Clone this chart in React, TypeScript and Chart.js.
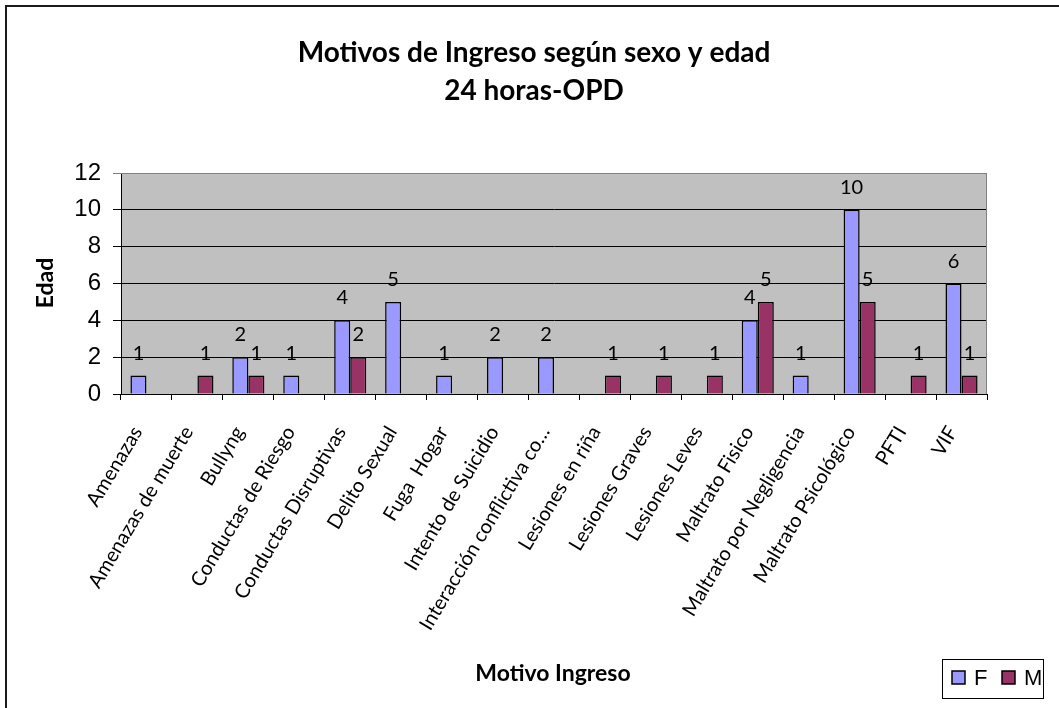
import React, { useEffect, useRef } from "react";
import { Chart, registerables } from "chart.js";

Chart.register(...registerables);

const categories = [
  "Amenazas",
  "Amenazas de muerte",
  "Bullyng",
  "Conductas de Riesgo",
  "Conductas Disruptivas",
  "Delito Sexual",
  "Fuga  Hogar",
  "Intento de Suicidio",
  "Interacción conflictiva co…",
  "Lesiones en riña",
  "Lesiones Graves",
  "Lesiones Leves",
  "Maltrato Fisico",
  "Maltrato por Negligencia",
  "Maltrato Psicológico",
  "PFTI",
  "VIF",
];

const valuesF = [1, null, 2, 1, 4, 5, 1, 2, 2, null, null, null, 4, 1, 10, null, 6];
const valuesM = [null, 1, 1, null, 2, null, null, null, null, 1, 1, 1, 5, null, 5, 1, 1];

const seriesNames = ["F", "M"];
const seriesColors = ["#9999FF", "#993366"];

const titleLines = ["Motivos de Ingreso según sexo y edad", "24 horas-OPD"];
const xTitle = "Motivo Ingreso";
const yTitle = "Edad";

const W = 1059;
const H = 708;
const PLOT_LEFT = 121;
const PLOT_RIGHT = 987;
const PLOT_TOP = 173;
const PLOT_BOTTOM = 394;

const decorPlugin = {
  id: "decor",
  beforeDraw(chart: any) {
    const { ctx, chartArea } = chart;
    ctx.save();
    ctx.fillStyle = "#ffffff";
    ctx.fillRect(0, 0, chart.width, chart.height);
    ctx.fillStyle = "#C0C0C0";
    ctx.fillRect(chartArea.left, chartArea.top, chartArea.right - chartArea.left, chartArea.bottom - chartArea.top);
    ctx.restore();
  },
  afterDatasetsDraw(chart: any) {
    const { ctx, chartArea } = chart;
    ctx.save();
    ctx.strokeStyle = "#808080";
    ctx.lineWidth = 1;
    ctx.beginPath();
    ctx.moveTo(chartArea.left, chartArea.top + 0.5);
    ctx.lineTo(chartArea.right - 0.5, chartArea.top + 0.5);
    ctx.lineTo(chartArea.right - 0.5, chartArea.bottom);
    ctx.stroke();

    ctx.fillStyle = "#000";
    ctx.font = "20px Lato";
    ctx.textAlign = "center";
    ctx.textBaseline = "alphabetic";
    chart.data.datasets.forEach((ds: any, di: number) => {
      const meta = chart.getDatasetMeta(di);
      meta.data.forEach((el: any, i: number) => {
        const v = ds.data[i];
        if (v === null || v === undefined) return;
        ctx.fillText(String(v), el.x, el.y - 16);
      });
    });
    ctx.restore();
  },
  afterDraw(chart: any) {
    const { ctx } = chart;
    ctx.save();
    ctx.fillStyle = "#1a1a1a";
    ctx.fillRect(5, 5, chart.width - 5, 2);
    ctx.fillRect(5, 5, 2, chart.height - 5);

    ctx.fillStyle = "#000";
    ctx.textAlign = "center";
    ctx.textBaseline = "alphabetic";
    ctx.font = "bold 28px Lato";
    ctx.fillText(titleLines[0], 534, 62);
    ctx.fillText(titleLines[1], 534, 100);

    ctx.font = "bold 23px Lato";
    ctx.textBaseline = "middle";
    ctx.fillText(xTitle, 553, 674);

    ctx.save();
    ctx.translate(46, 283);
    ctx.rotate(-Math.PI / 2);
    ctx.fillText(yTitle, 0, 0);
    ctx.restore();

    ctx.strokeStyle = "#000";
    ctx.lineWidth = 1;
    ctx.strokeRect(942.5, 659.5, 101, 39);
    const items = [
      { x: 952, tx: 974 },
      { x: 1002, tx: 1024 },
    ];
    ctx.font = "22px 'Liberation Sans'";
    ctx.textAlign = "left";
    ctx.textBaseline = "middle";
    items.forEach((it, i) => {
      ctx.fillStyle = seriesColors[i];
      ctx.fillRect(it.x, 671, 13, 13);
      ctx.strokeStyle = "#000";
      ctx.lineWidth = 1.5;
      ctx.strokeRect(it.x, 671, 13, 13);
      ctx.fillStyle = "#000";
      ctx.fillText(seriesNames[i], it.tx, 679);
    });
    ctx.restore();
  },
};

export default function App() {
  const ref = useRef<HTMLCanvasElement | null>(null);

  useEffect(() => {
    document.body.style.margin = "0";
    const canvas = ref.current;
    if (!canvas) return;
    const chart = new Chart(canvas, {
      type: "bar",
      data: {
        labels: categories,
        datasets: seriesNames.map((name, i) => ({
          label: name,
          data: i === 0 ? valuesF : valuesM,
          backgroundColor: seriesColors[i],
          borderColor: "#000",
          borderWidth: 1.5,
          categoryPercentage: 0.63,
          barPercentage: 1.0,
        })),
      },
      options: {
        responsive: false,
        animation: false,
        devicePixelRatio: 1,
        layout: {
          padding: { top: PLOT_TOP, right: W - PLOT_RIGHT, left: 0, bottom: 0 },
        },
        plugins: {
          legend: { display: false },
          title: { display: false },
          tooltip: { enabled: false },
        },
        scales: {
          x: {
            afterFit(scale: any) {
              scale.height = H - PLOT_BOTTOM;
            },
            grid: {
              display: true,
              drawOnChartArea: false,
              offset: true,
              color: "#000",
              tickLength: 6,
            },
            border: { display: true, color: "#000", width: 1 },
            ticks: {
              autoSkip: false,
              minRotation: 59,
              maxRotation: 59,
              padding: 22,
              labelOffset: -9,
              color: "#000",
              font: { family: "Lato", size: 20 },
            },
          },
          y: {
            min: 0,
            max: 12,
            afterFit(scale: any) {
              scale.width = PLOT_LEFT;
            },
            grid: {
              color: (c: any) => (c.tick && c.tick.value === 12 ? "#808080" : "#000"),
              tickLength: 8,
            },
            border: { display: true, color: "#000", width: 1 },
            ticks: {
              stepSize: 2,
              padding: 12,
              color: "#000",
              font: { family: "'Liberation Sans'", size: 24 },
            },
          },
        },
      },
      plugins: [decorPlugin],
    });
    return () => chart.destroy();
  }, []);

  return (
    <div style={{ position: "absolute", left: 0, top: 0, width: W, height: H }}>
      <canvas ref={ref} width={W} height={H} style={{ width: W, height: H, display: "block" }} />
    </div>
  );
}
